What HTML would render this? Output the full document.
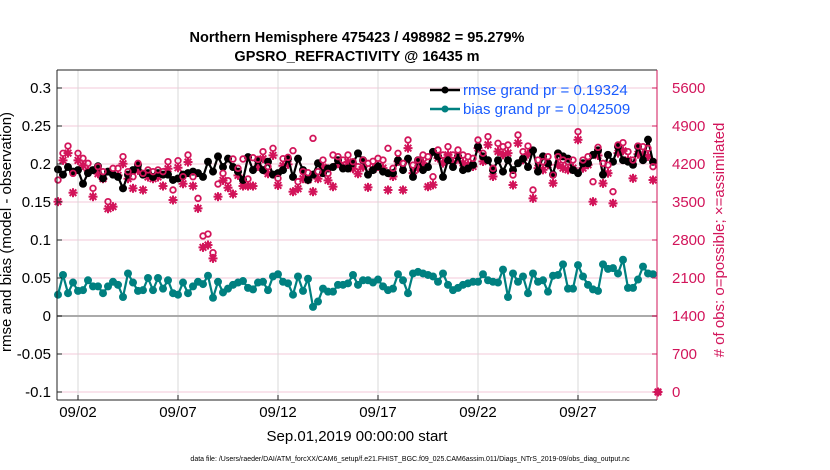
<!DOCTYPE html>
<html><head><meta charset="utf-8"><style>
html,body{margin:0;padding:0;background:#fff;}
svg{display:block;font-family:"Liberation Sans",sans-serif;}
</style></head><body>
<svg id="chart" width="830" height="470" viewBox="0 0 830 470" xmlns="http://www.w3.org/2000/svg">
<text x="357" y="42" text-anchor="middle" font-size="14.5" font-weight="bold">Northern Hemisphere 475423 / 498982 = 95.279%</text>
<text x="357" y="61" text-anchor="middle" font-size="14.5" font-weight="bold">GPSRO_REFRACTIVITY @ 16435 m</text>
<g id="grid"></g>
<g id="marks"></g>
<g id="axes"></g>
<text transform="translate(11,232) rotate(-90)" text-anchor="middle" font-size="15">rmse and bias (model - observation)</text>
<text transform="translate(724,240) rotate(-90)" text-anchor="middle" font-size="15" fill="#d2145a"># of obs: o=possible; ×=assimilated</text>
<text x="357" y="441" text-anchor="middle" font-size="15">Sep.01,2019 00:00:00 start</text>
<text x="410" y="461" text-anchor="middle" font-size="7">data file: /Users/raeder/DAI/ATM_forcXX/CAM6_setup/f.e21.FHIST_BGC.f09_025.CAM6assim.011/Diags_NTrS_2019-09/obs_diag_output.nc</text>
<g>
  <line x1="430" y1="90" x2="460" y2="90" stroke="#000" stroke-width="2.5"/><circle cx="445" cy="90" r="3.5" fill="#000"/>
  <text x="463" y="95" font-size="15" fill="#1a5cff">rmse grand pr = 0.19324</text>
  <line x1="430" y1="109" x2="460" y2="109" stroke="#008080" stroke-width="2.5"/><circle cx="445" cy="109" r="3.5" fill="#008080"/>
  <text x="463" y="114" font-size="15" fill="#1a5cff">bias grand pr = 0.042509</text>
</g>
</svg>
<script>
const rmse=[.193,.186,.196,.190,.192,.174,.188,.192,.197,.181,.190,.186,.183,.168,.186,.192,.199,.186,.188,.183,.188,.186,.186,.179,.181,.186,.188,.190,.188,.183,.203,.190,.210,.196,.207,.196,.190,.179,.209,.192,.205,.192,.203,.186,.188,.192,.207,.183,.207,.192,.179,.186,.201,.188,.194,.196,.205,.194,.194,.201,.214,.205,.186,.192,
.197,.190,.188,.188,.205,.192,.207,.183,.205,.192,.196,.216,.210,.183,.205,.196,.210,.192,.194,.199,.223,.210,.205,.192,.205,.190,.205,.192,.201,.207,.196,.218,.190,.210,.201,.186,.214,.210,.207,.192,.188,.201,.201,.212,.218,.186,.212,.203,.223,.205,.203,.199,.223,.205,.232,.203];
const bias=[.028,.054,.030,.044,.033,.034,.047,.039,.039,.030,.039,.045,.041,.025,.056,.044,.033,.034,.050,.034,.050,.036,.047,.030,.028,.044,.030,.039,.045,.042,.053,.024,.045,.031,.036,.041,.044,.046,.037,.035,.044,.045,.034,.052,.055,.045,.043,.028,.052,.033,.049,.012,.019,.036,.032,.032,.041,.041,.043,.054,.041,.047,.047,.044,
.048,.039,.034,.036,.055,.047,.030,.056,.058,.056,.054,.052,.045,.056,.041,.034,.037,.041,.043,.045,.045,.055,.047,.045,.044,.061,.025,.056,.045,.052,.030,.056,.045,.047,.032,.053,.054,.068,.036,.036,.067,.052,.041,.035,.033,.068,.062,.063,.056,.074,.037,.037,.048,.065,.056,.055];
const possible=[3905,4397,4531,4028,4397,4304,4212,3752,4151,4059,3506,4120,4120,4335,4059,3966,4212,4028,4090,4059,4090,4059,4243,3721,4261,3966,4366,3966,3567,2874,2910,2566,3831,4028,3893,4292,4120,4292,3924,4316,4286,4427,4151,4489,3936,4298,4323,4445,3874,4059,4040,4673,4059,4273,4028,4366,4335,4273,4366,4243,4151,4273,4212,4250,
4304,4273,4489,4120,4397,4212,4642,4181,4273,4366,4335,3966,4458,4366,4519,4366,4458,4366,4335,4304,4642,4397,4704,4120,4581,4519,4550,3997,4734,4427,4531,3721,4273,4243,4335,3997,4335,4273,4243,4273,4796,4273,4335,3874,4507,4212,4181,3690,4550,4593,4427,4273,4531,4519,4489,4151,0];
const assimilated=[3506,4267,4401,3671,4267,4174,4082,3598,4021,3929,3376,3414,3990,4205,3929,3752,4082,3721,3960,3929,3960,3794,4113,3537,4131,3836,4236,3794,3383,2664,2707,2461,3598,3898,3763,3647,3990,3794,3794,3794,4156,4297,4021,4359,3806,4168,4193,3690,3744,3929,3910,3690,3929,4143,3898,3782,4205,4143,4236,4113,4021,4143,3770,4100,
4154,4123,3721,3970,4247,3721,4492,4031,4123,4216,3782,3816,4308,4216,4369,4216,4308,4216,4185,4154,4492,4247,4554,3970,4431,4369,4400,3813,4584,4277,4381,3567,4123,4093,4185,3847,4185,4123,4093,4123,4646,4123,4185,3506,4357,3843,4031,3475,4400,4443,4277,3936,4381,4369,4339,3905,0];
const xTicks=[1,6,11,16,21,26];
const xTickLabels=["09/02","09/07","09/12","09/17","09/22","09/27"];
const yLeftTicks=[-0.1,-0.05,0,0.05,0.1,0.15,0.2,0.25,0.3];
const yRightTicks=[0,700,1400,2100,2800,3500,4200,4900,5600];

const L=57,R=657,T=70,B=400,NS="http://www.w3.org/2000/svg";
const xDay=d=>L+1+d*20;
const xIdx=i=>xDay(i*0.25);
const yL=v=>316-v*760;
const yR=c=>392-c*38/700;
const grid=document.getElementById('grid'),marks=document.getElementById('marks'),axes=document.getElementById('axes');
function mk(tag,attrs,parent){const e=document.createElementNS(NS,tag);for(const k in attrs)e.setAttribute(k,attrs[k]);parent.appendChild(e);return e;}

mk('rect',{x:L,y:T,width:R-L,height:B-T,fill:'#fff'},grid);
yRightTicks.forEach(c=>{const g=mk('line',{x1:L,x2:R,y1:yR(c),y2:yR(c),stroke:'#f3c8d8','stroke-width':1},grid);

});
xTicks.forEach(d=>{const g=mk('line',{x1:xDay(d),x2:xDay(d),y1:T,y2:B,stroke:'#d8d8d8','stroke-width':1},grid);

});
const zl=mk('line',{x1:L,x2:R,y1:yL(0),y2:yL(0),stroke:'#aaa','stroke-width':2},grid);



function line(arr,fn,color,name){
  const pts=arr.map((v,i)=>xIdx(i).toFixed(1)+','+fn(v).toFixed(1)).join(' ');
  const p=mk('polyline',{points:pts,fill:'none',stroke:color,'stroke-width':2.2,'stroke-linejoin':'round'},marks);
  
  
  arr.forEach((v,i)=>{const c=mk('circle',{cx:xIdx(i),cy:fn(v),r:4,fill:color},marks);
  
  });
}
assimilated.forEach((c,i)=>{const x=xIdx(i),y=yR(c);
  const g=mk('g',{stroke:'#d2145a','stroke-width':2},marks);
  
  
  mk('line',{x1:x-4.5,x2:x+4.5,y1:y,y2:y},g);mk('line',{x1:x,x2:x,y1:y-4.5,y2:y+4.5},g);
  mk('line',{x1:x-3.3,x2:x+3.3,y1:y-3.3,y2:y+3.3},g);mk('line',{x1:x-3.3,x2:x+3.3,y1:y+3.3,y2:y-3.3},g);});
line(rmse,yL,'#000','rmse');
line(bias,yL,'#008080','bias');
possible.forEach((c,i)=>{const e=mk('circle',{cx:xIdx(i),cy:yR(c),r:2.8,fill:'none',stroke:'#d2145a','stroke-width':1.8},marks);
  
  });

mk('line',{x1:L,x2:L,y1:T,y2:B,stroke:'#222','stroke-width':1},axes);
mk('line',{x1:L,x2:R,y1:T,y2:T,stroke:'#222','stroke-width':1},axes);
mk('line',{x1:L,x2:R,y1:B,y2:B,stroke:'#222','stroke-width':1},axes);
mk('line',{x1:R,x2:R,y1:T,y2:B,stroke:'#d2145a','stroke-width':1},axes);
yLeftTicks.forEach(v=>{const y=yL(v);mk('line',{x1:L,x2:L+5,y1:y,y2:y,stroke:'#222'},axes);
  const t=mk('text',{x:L-6,y:y+5,'text-anchor':'end','font-size':15},axes);t.textContent=String(v);
  
  });
yRightTicks.forEach(c=>{const y=yR(c);mk('line',{x1:R-5,x2:R,y1:y,y2:y,stroke:'#d2145a'},axes);
  const t=mk('text',{x:R+15,y:y+5,'font-size':15,fill:'#d2145a'},axes);t.textContent=String(c);
  
  });
xTicks.forEach((d,i)=>{const x=xDay(d);mk('line',{x1:x,x2:x,y1:B,y2:B-5,stroke:'#222'},axes);
  const t=mk('text',{x:x,y:B+17,'text-anchor':'middle','font-size':15},axes);t.textContent=xTickLabels[i];
  
  });
</script>
</body></html>
